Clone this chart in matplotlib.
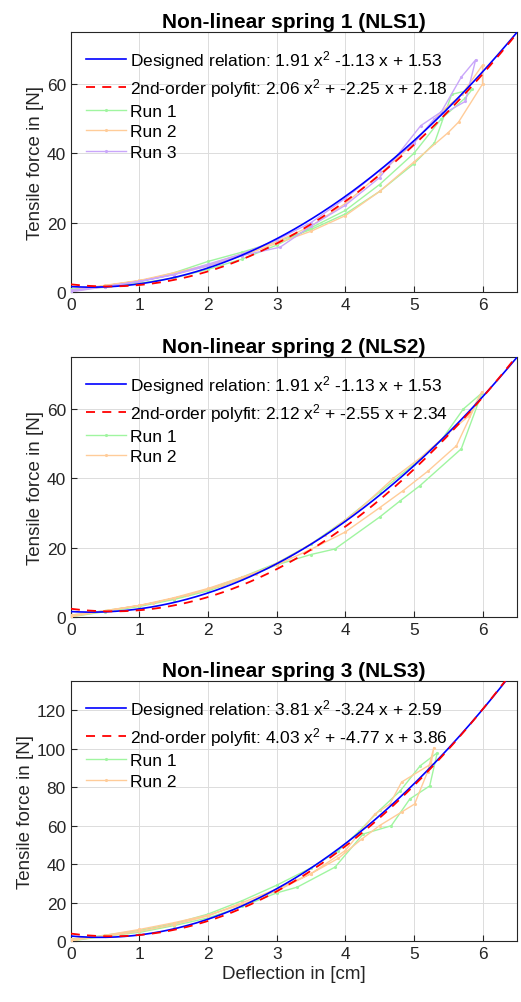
import matplotlib
matplotlib.use('Agg')
import matplotlib.pyplot as plt
import numpy as np

plt.rcParams['font.family'] = ['Liberation Sans', 'DejaVu Sans']
plt.rcParams['mathtext.fontset'] = 'custom'
plt.rcParams['mathtext.rm'] = 'Liberation Sans'
plt.rcParams['mathtext.it'] = 'Liberation Sans:italic'

# polynomial coefficients (highest order first), read from the legends
design_12 = [1.91, -1.13, 1.53]
fit_1 = [2.06, -2.25, 2.18]
fit_2 = [2.12, -2.55, 2.34]
design_3 = [3.81, -3.24, 2.59]
fit_3 = [4.03, -4.77, 3.86]

# NLS1 measured runs (loading then unloading)
nls1_run1_x = [0, 0.5, 1, 1.5, 2, 2.5, 3, 3.5, 4, 4.5, 5, 5.3, 5.55, 5.85,
               5.75, 5.4, 5.0, 4.5, 4, 3.5, 3, 2.5, 2, 1.5, 1, 0.5, 0]
nls1_run1_y = [0.5, 1.6, 3, 5.5, 8.8, 11.5, 14.5, 18, 22.5, 29, 37, 43, 57, 58.5,
               56, 50, 40, 31, 23.5, 18.5, 13.5, 9.5, 6.5, 4, 2.5, 1.3, 0.8]
nls1_run2_x = [0, 0.5, 1, 1.5, 2, 2.5, 3, 3.5, 4, 4.5, 5, 5.5, 5.65, 6.0, 6.0,
               5.7, 5.4, 5.0, 4.5, 4, 3.5, 3, 2.5, 2, 1.5, 1, 0.5, 0]
nls1_run2_y = [0, 1.8, 3.2, 5, 7.5, 10.5, 14, 17.5, 22, 29, 37.5, 46, 49, 60, 65.5,
               57, 52, 43, 34, 25.5, 19, 14.5, 11, 7.8, 5.5, 3.3, 1.9, 0.5]
nls1_run3_x = [0, 0.5, 1, 1.5, 2, 2.5, 3.05, 3.5, 4, 4.5, 5.1, 5.4, 5.69, 5.9,
               5.75, 5.3, 5.0, 4.5, 4, 3.5, 3, 2.5, 2, 1.5, 1, 0.5, 0]
nls1_run3_y = [0, 1.5, 3, 5, 7.5, 10.5, 12.9, 19, 25, 33, 48, 52, 62, 67,
               55, 50, 43, 35, 27, 20, 15, 11, 8, 5, 3, 1.5, 0.5]

# NLS2 measured runs
nls2_run1_x = [0, 0.5, 1, 1.5, 2, 2.5, 3, 3.5, 3.85, 4.5, 4.8, 5.09, 5.69, 5.99,
               5.72, 5.4, 5.0, 4.5, 4, 3.5, 3, 2.5, 2, 1.5, 1, 0.5, 0]
nls2_run1_y = [0, 1.5, 3, 5, 7.5, 11, 15, 18, 19.6, 28.8, 33.5, 37.9, 48.5, 64.6,
               60, 51, 44, 36, 28, 21, 15.5, 11.5, 8, 5.3, 3.2, 1.8, 0.5]
nls2_run2_x = [0, 0.5, 1, 1.5, 2, 2.5, 3, 3.5, 4, 4.5, 4.84, 5.2, 5.62, 5.99,
               5.8, 5.5, 5.1, 4.7, 4.2, 3.7, 3.2, 2.7, 2.2, 1.7, 1.2, 0.6, 0]
nls2_run2_y = [0, 1.8, 3.3, 5.5, 8.2, 11.5, 15, 19.5, 24.5, 31.5, 36.4, 42, 49.4, 65,
               58, 53, 46, 40, 31, 23.5, 17.5, 12.5, 9, 6.3, 4, 2, 0.5]

# NLS3 measured runs
nls3_run1_x = [0, 0.5, 1, 1.5, 2, 2.5, 3, 3.3, 3.85, 4.26, 4.67, 4.94, 5.23, 5.34,
               5.09, 4.8, 4.5, 4.2, 3.9, 3.5, 3, 2.5, 2, 1.5, 1, 0.5, 0]
nls3_run1_y = [0, 2.5, 4.5, 8, 12, 18, 25, 28, 38.4, 55.6, 59.9, 73.8, 80.6, 97.8,
               91, 78, 68, 57, 47, 38, 29, 21, 14, 9, 5.5, 3, 1]
nls3_run2_x = [0, 0.5, 1, 1.5, 2, 2.5, 3, 3.5, 4.0, 4.43, 4.65, 4.82, 5.25, 5.29,
               5.2, 5.01, 4.82, 4.5, 4.24, 3.9, 3.5, 3, 2.5, 2, 1.5, 1, 0.5, 0]
nls3_run2_y = [0, 3, 6, 9.5, 13.5, 19, 26, 35, 47, 66, 71.2, 82.6, 92, 100.5,
               88, 71.2, 67, 60, 53, 43, 35, 27, 20, 13, 8.5, 5, 2.5, 1]

c_green = '#a0f5a0'
c_orange = '#ffcc99'
c_purple = '#c9a6fa'


def poly_label(prefix, c, sep):
    return '%s: %.2f x$^{2}$%s%.2f x + %.2f' % (prefix, c[0], sep, c[1], c[2])


fig = plt.figure(figsize=(5.21, 10.03), dpi=100)
lefts = 0.136
width = 0.856
bottoms = [0.708, 0.384, 0.0608]
height = 0.259

panels = [
    ('Non-linear spring 1 (NLS1)', design_12, fit_1, 75,
     [(nls1_run1_x, nls1_run1_y, c_green, 'Run 1'),
      (nls1_run2_x, nls1_run2_y, c_orange, 'Run 2'),
      (nls1_run3_x, nls1_run3_y, c_purple, 'Run 3')], [0, 20, 40, 60]),
    ('Non-linear spring 2 (NLS2)', design_12, fit_2, 75,
     [(nls2_run1_x, nls2_run1_y, c_green, 'Run 1'),
      (nls2_run2_x, nls2_run2_y, c_orange, 'Run 2')], [0, 20, 40, 60]),
    ('Non-linear spring 3 (NLS3)', design_3, fit_3, 135,
     [(nls3_run1_x, nls3_run1_y, c_green, 'Run 1'),
      (nls3_run2_x, nls3_run2_y, c_orange, 'Run 2')], [0, 20, 40, 60, 80, 100, 120]),
]

xs = np.linspace(0, 6.5, 300)
for i, (title, dcoef, fcoef, ytop, runs, yticks) in enumerate(panels):
    ax = fig.add_axes([lefts, bottoms[i], width, height])
    ax.plot(xs, np.polyval(dcoef, xs), color='blue', lw=1.2,
            label=poly_label('Designed relation', dcoef, ' '), zorder=5)
    ax.plot(xs, np.polyval(fcoef, xs), color='red', ls=(0, (5, 4)), lw=1.3,
            label=poly_label('2nd-order polyfit', fcoef, ' + '), zorder=6)
    for rx, ry, col, lab in runs:
        ax.plot(rx, ry, color=col, lw=1.0, marker='.', ms=2.5, label=lab, zorder=3)
    ax.set_xlim(0, 6.5)
    ax.set_ylim(0, ytop)
    ax.set_xticks([0, 1, 2, 3, 4, 5, 6])
    ax.set_yticks(yticks)
    ax.grid(True, color='#dcdcdc', lw=0.7)
    ax.set_axisbelow(True)
    ax.tick_params(direction='in', labelsize=12.5, colors='#262626', length=4)
    for s in ax.spines.values():
        s.set_color('#262626')
        s.set_linewidth(0.8)
    ax.set_title(title, fontsize=15, fontweight='bold', pad=4)
    ax.set_ylabel('Tensile force in [N]', fontsize=13.5, color='#262626', labelpad=2)
    ax.legend(loc='upper left', frameon=False, fontsize=12.5, handlelength=2.3,
              handletextpad=0.2, labelspacing=0.3, borderaxespad=0.5)
    if i == 2:
        ax.set_xlabel('Deflection in [cm]', fontsize=13.5, color='#262626', labelpad=3)

fig.savefig('out.png', dpi=100)
